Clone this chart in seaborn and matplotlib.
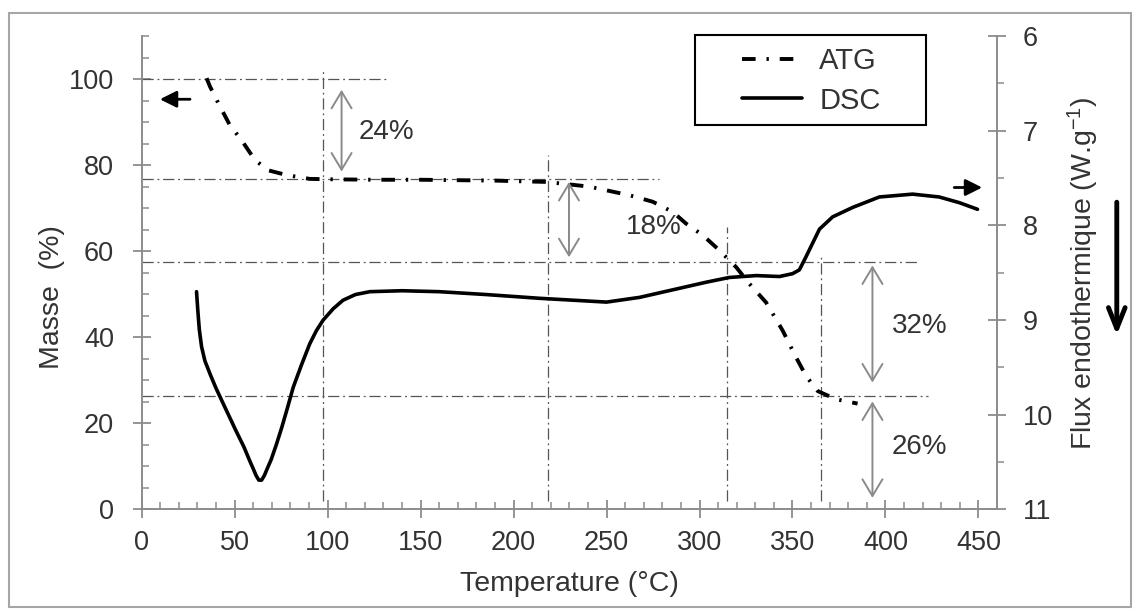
import matplotlib
matplotlib.use("Agg")
import matplotlib.pyplot as plt
import seaborn as sns
from matplotlib.ticker import MultipleLocator
from matplotlib.lines import Line2D
from matplotlib.patches import Rectangle

sns.set_theme(style="ticks")
plt.rcParams['font.family'] = ['Liberation Sans', 'DejaVu Sans']
plt.rcParams['mathtext.fontset'] = 'custom'
plt.rcParams['mathtext.rm'] = 'Liberation Sans'
plt.rcParams['mathtext.it'] = 'Liberation Sans:italic'

# courbe ATG (masse %)
atg_temp = [34.9, 36.7, 41.2, 47.4, 53.7, 60.9, 68, 77.9, 90.4, 103, 126, 150,
            190, 217.6, 240.8, 262.3, 274.8, 285.7, 292.8, 301.8, 310.7, 319.7,
            326.9, 335.8, 344.8, 351, 357.3, 363.6, 373.5, 385]
atg_masse = [100.2, 98.3, 94.4, 89.3, 85.8, 81.2, 78.8, 77.7, 76.8, 76.7, 76.6, 76.6,
             76.4, 76.1, 75.0, 73.0, 71.5, 69.1, 66.4, 63.7, 60.2, 56.3,
             52.4, 48.1, 41.5, 36.1, 31.0, 27.5, 25.6, 24.6]

# courbe DSC (flux W/g)
dsc_temp = [29.5, 30.2, 31.0, 32.2, 34, 37, 40, 45, 50.5, 55, 58.2, 60, 61.5, 63,
            64.5, 66, 67.5, 69.7, 72.5, 75.4, 78.5, 81.5, 86, 90.4, 94, 97.6, 103,
            108.3, 115, 122.7, 140, 160, 185, 214, 232, 250, 267.8, 285.7, 303.6,
            316, 330.5, 343, 350, 353.7, 357.3, 364.5, 371.6, 382.4, 396.7, 414.6,
            428.9, 439.7, 449.5]
dsc_flux = [8.70, 8.90, 9.10, 9.28, 9.43, 9.58, 9.72, 9.93, 10.16, 10.34, 10.49,
            10.57, 10.64, 10.69, 10.69, 10.64, 10.57, 10.47, 10.31, 10.13, 9.92,
            9.71, 9.47, 9.25, 9.11, 9.00, 8.88, 8.79, 8.73, 8.70, 8.69, 8.70, 8.73,
            8.77, 8.79, 8.81, 8.76, 8.68, 8.60, 8.55, 8.53, 8.54, 8.51, 8.47, 8.33,
            8.04, 7.91, 7.81, 7.70, 7.67, 7.70, 7.76, 7.83]

# lignes de repere
guide_h = [100, 76.7, 57.5, 26.3]
guide_h_end = [133, 278, 418, 423]
guide_v = [97.3, 218.5, 314.7, 365.4]
guide_v_top = [101.8, 82.3, 65.6, 58.7]
guide_v_bottom = 2

# pertes de masse
pct_labels = ['24%', '18%', '32%', '26%']
pct_x = [107.5, 229.8, 393, 393]
pct_from = [97.5, 76.1, 56.7, 25.1]
pct_to = [78.5, 58.6, 29.5, 2.7]
pct_text_x = [131.8, 275.5, 418.2, 418.2]
pct_text_y = [87.8, 65.6, 42.7, 14.6]

txt = '#333333'
axc = '#8c8c8c'
guide_col = '#555555'
atg_ls = (0, (3.5, 2.8, 0.6, 2.8))
guide_ls = (0, (9, 3, 1.5, 3))

fig = plt.figure(figsize=(11.37, 6.12), dpi=100)
ax = fig.add_axes([0.1246, 0.1675, 0.7523, 0.7737])
ax2 = ax.twinx()

for h, e in zip(guide_h, guide_h_end):
    ax.plot([0, e], [h, h], color=guide_col, lw=0.9, ls=guide_ls, zorder=1)
for v, t in zip(guide_v, guide_v_top):
    ax.plot([v, v], [guide_v_bottom, t], color=guide_col, lw=0.9, ls=guide_ls, zorder=1)

sns.lineplot(x=atg_temp, y=atg_masse, ax=ax, color='black', lw=2.8,
             linestyle=atg_ls, estimator=None, legend=False, zorder=3)
sns.lineplot(x=dsc_temp, y=dsc_flux, ax=ax2, color='black', lw=2.6,
             estimator=None, legend=False)

for lab, x, a, b, tx, ty in zip(pct_labels, pct_x, pct_from, pct_to, pct_text_x, pct_text_y):
    ax.annotate('', xy=(x, b), xytext=(x, a),
                arrowprops=dict(arrowstyle='<->,head_length=0.6,head_width=0.36',
                                color='#8a8a8a', lw=1.4, mutation_scale=20,
                                shrinkA=0, shrinkB=0))
    ax.text(tx, ty, lab, ha='center', va='center', fontsize=20, color=txt)

# fleches d'axe
ax.annotate('', xy=(9.8, 95.3), xytext=(26, 95.3),
            arrowprops=dict(arrowstyle='-|>,head_length=0.5,head_width=0.25',
                            color='black', lw=2, mutation_scale=20, shrinkA=0, shrinkB=0))
ax2.annotate('', xy=(452, 7.60), xytext=(437, 7.60),
             arrowprops=dict(arrowstyle='-|>,head_length=0.5,head_width=0.25',
                             color='black', lw=2, mutation_scale=20, shrinkA=0, shrinkB=0))
ax.annotate('', xy=(1.140, 0.3685), xytext=(1.140, 0.649), xycoords='axes fraction',
            textcoords='axes fraction', annotation_clip=False,
            arrowprops=dict(arrowstyle='->,head_length=0.5,head_width=0.2',
                            color='black', lw=3.5, mutation_scale=30, shrinkA=0, shrinkB=0))

ax.set_xlim(0, 460)
ax.set_ylim(0, 110)
ax2.set_ylim(11, 6)
ax.set_xticks(range(0, 451, 50))
ax.xaxis.set_minor_locator(MultipleLocator(10))
ax.set_yticks(range(0, 101, 20))
ax.yaxis.set_minor_locator(MultipleLocator(5))
ax2.set_yticks(range(6, 12))
ax2.yaxis.set_minor_locator(MultipleLocator(0.5))

ax.tick_params(axis='x', which='major', direction='inout', length=13, width=1.3,
               color=axc, pad=8, labelsize=19.5, labelcolor=txt)
ax.tick_params(axis='x', which='minor', direction='in', length=5, width=1.1, color=axc)
ax.tick_params(axis='y', which='major', direction='inout', length=13, width=1.3,
               color=axc, pad=13.5, labelsize=19.5, labelcolor=txt)
ax.tick_params(axis='y', which='minor', direction='in', length=5, width=1.1, color=axc)
ax2.tick_params(axis='y', which='major', direction='inout', length=13, width=1.3,
                color=axc, pad=12, labelsize=19.5, labelcolor=txt)
ax2.tick_params(axis='y', which='minor', direction='out', length=5, width=1.1, color=axc)

for a in (ax, ax2):
    a.spines['top'].set_visible(False)
    for s in a.spines.values():
        s.set_color(axc)
        s.set_linewidth(1.4)
ax.spines['right'].set_visible(False)
ax2.spines['left'].set_visible(False)
ax2.spines['bottom'].set_visible(False)

ax.set_xlabel('Temperature (°C)', fontsize=20.5, color=txt, va='center')
ax.xaxis.set_label_coords(0.5, -0.157)
ax.set_ylabel('Masse  (%)', fontsize=20.5, color=txt, va='center', ha='center')
ax.yaxis.set_label_coords(-0.105, 0.449)
ax2.set_ylabel('Flux endothermique (W.g$^{-1}$)', fontsize=20.5, color=txt,
               va='center', ha='center', rotation=90)
ax2.yaxis.set_label_coords(1.101, 0.498)

handles = [Line2D([], [], color='black', lw=2.8, ls=atg_ls),
           Line2D([], [], color='black', lw=2.6)]
fig.legend(handles, ['ATG', 'DSC'], loc='upper left', bbox_to_anchor=(742 / 1137, 1 - 47 / 612),
           frameon=False, fontsize=21, handlelength=2.05, handletextpad=0.6,
           labelspacing=0.4, borderpad=0, borderaxespad=0, labelcolor=txt)
fig.patches.append(Rectangle((695 / 1137, 1 - 125 / 612), 231 / 1137, 90 / 612,
                             transform=fig.transFigure, fill=False, ec='black', lw=1.5))
fig.patches.append(Rectangle((9 / 1137, 5 / 612), 1122 / 1137, 594 / 612,
                             transform=fig.transFigure, fill=False, ec='#a6a6a6', lw=1.5))

fig.savefig('out.png', dpi=100)
